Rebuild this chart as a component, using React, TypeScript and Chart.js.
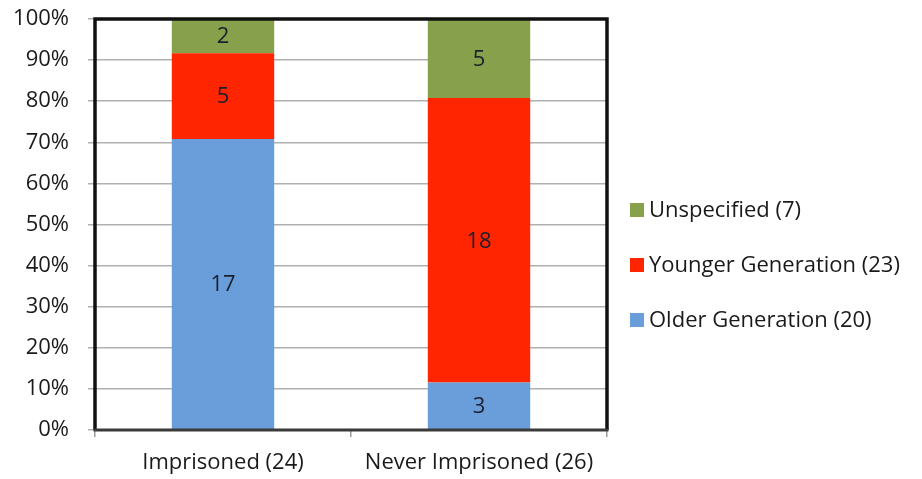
import React, { useEffect, useRef } from "react";
import { Chart, registerables } from "chart.js";

Chart.register(...registerables);

const categories = ["Imprisoned (24)", "Never Imprisoned (26)"];
const olderCounts = [17, 3];
const youngerCounts = [5, 18];
const unspecifiedCounts = [2, 5];
const seriesLabels = ["Older Generation (20)", "Younger Generation (23)", "Unspecified (7)"];
const seriesColors = ["#6a9edb", "#ff2500", "#87a04b"];
const yTicks = [0, 10, 20, 30, 40, 50, 60, 70, 80, 90, 100];

const FONT = "'Open Sans', Lato, sans-serif";
const FSIZE = 22;

const totals = categories.map((_, i) => olderCounts[i] + youngerCounts[i] + unspecifiedCounts[i]);
const toPct = (arr: number[]) => arr.map((v, i) => (v / totals[i]) * 100);

const countsBySeries = [olderCounts, youngerCounts, unspecifiedCounts];

const valueLabels = {
  id: "valueLabels",
  afterDatasetsDraw(chart: any) {
    const ctx = chart.ctx;
    ctx.save();
    ctx.font = `${FSIZE}px ${FONT}`;
    ctx.fillStyle = "#1c1f2e";
    ctx.textAlign = "center";
    ctx.textBaseline = "middle";
    chart.data.datasets.forEach((ds: any, di: number) => {
      const meta = chart.getDatasetMeta(di);
      meta.data.forEach((bar: any, i: number) => {
        const y = (bar.y + bar.base) / 2;
        ctx.fillText(String(countsBySeries[di][i]), bar.x, y + 1);
      });
    });
    const a = chart.chartArea;
    ctx.lineWidth = 3.5;
    ctx.strokeStyle = "#111";
    ctx.beginPath();
    ctx.moveTo(a.left, a.bottom);
    ctx.lineTo(a.left, a.top);
    ctx.lineTo(a.right, a.top);
    ctx.lineTo(a.right, a.bottom);
    ctx.stroke();
    ctx.lineWidth = 3;
    ctx.strokeStyle = "#3a3a3a";
    ctx.beginPath();
    ctx.moveTo(a.left - 1.5, a.bottom);
    ctx.lineTo(a.right + 1.5, a.bottom);
    ctx.stroke();
    ctx.restore();
  },
};

const customLegend = {
  id: "customLegend",
  afterDraw(chart: any) {
    const ctx = chart.ctx;
    ctx.save();
    ctx.font = `${FSIZE}px ${FONT}`;
    ctx.textBaseline = "middle";
    ctx.textAlign = "left";
    const rows = [210, 265, 320];
    const order = [2, 1, 0];
    order.forEach((di, r) => {
      const ds = chart.data.datasets[di];
      const y = rows[r];
      ctx.fillStyle = ds.backgroundColor;
      ctx.fillRect(630, y - 7, 14, 14);
      ctx.fillStyle = "#1a1a1a";
      ctx.fillText(ds.label, 649, y + 1);
    });
    ctx.restore();
  },
};

export default function App() {
  const ref = useRef<HTMLCanvasElement>(null);
  useEffect(() => {
    document.body.style.margin = "0";
    const chart = new Chart(ref.current!, {
      type: "bar",
      data: {
        labels: categories,
        datasets: [
          { label: seriesLabels[0], data: toPct(olderCounts), backgroundColor: seriesColors[0] },
          { label: seriesLabels[1], data: toPct(youngerCounts), backgroundColor: seriesColors[1] },
          { label: seriesLabels[2], data: toPct(unspecifiedCounts), backgroundColor: seriesColors[2] },
        ],
      },
      options: {
        animation: false,
        responsive: false,
        layout: { padding: { top: 19, right: 315, left: 0, bottom: 0 } },
        datasets: { bar: { barPercentage: 0.4, categoryPercentage: 1 } },
        plugins: { legend: { display: false }, tooltip: { enabled: false } },
        scales: {
          x: {
            stacked: true,
            offset: true,
            afterFit: (s: any) => {
              s.height = 49;
              s.paddingLeft = 0;
              s.paddingRight = 0;
            },
            grid: { offset: true, drawOnChartArea: false, drawTicks: true, tickLength: 7, color: "#9a9a9a", lineWidth: 1.5 },
            border: { display: false },
            ticks: { font: { family: FONT, size: FSIZE }, color: "#1a1a1a", padding: 13 },
          },
          y: {
            stacked: true,
            min: 0,
            max: 100,
            afterBuildTicks: (s: any) => { s.ticks = yTicks.map((v) => ({ value: v })); },
            afterFit: (s: any) => {
              s.width = 95;
              s.paddingTop = 0;
              s.paddingBottom = 0;
            },
            grid: { color: "#b0b0b0", lineWidth: 1.5, tickLength: 7 },
            border: { display: false },
            ticks: {
              font: { family: FONT, size: FSIZE },
              color: "#1a1a1a",
              padding: 19,
              callback: (v: any) => v + "%",
            },
          },
        },
      },
      plugins: [valueLabels, customLegend],
    });
    return () => chart.destroy();
  }, []);
  return <canvas ref={ref} width={922} height={479} style={{ display: "block" }} />;
}
